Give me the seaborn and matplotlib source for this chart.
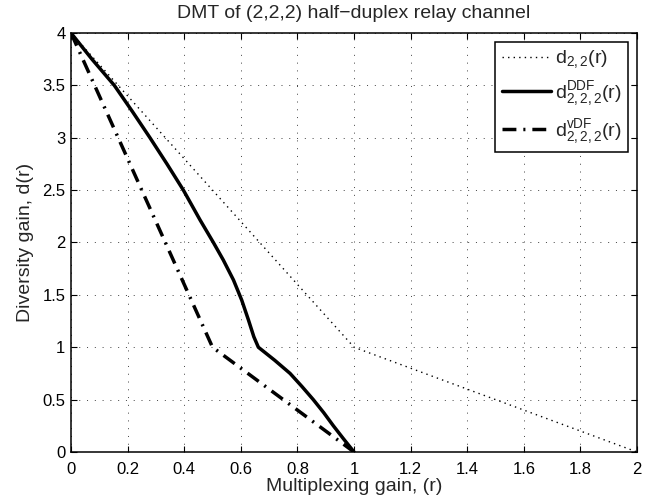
import numpy as np
import pandas as pd
import matplotlib
matplotlib.use('Agg')
import matplotlib.pyplot as plt
import seaborn as sns

# Valores
r_mimo = [0, 1, 2]
d_mimo = [4, 1, 0]

r_ddf = [0, 0.074, 0.153, 0.217, 0.279, 0.339, 0.397, 0.456, 0.503,
         0.538, 0.574, 0.603, 0.627, 0.646, 0.662,
         0.72, 0.774, 0.816, 0.856, 0.893, 0.927, 0.963, 1.0]
d_ddf = [4, 3.75, 3.5, 3.25, 3.0, 2.75, 2.5, 2.215, 2.0,
         1.833, 1.642, 1.451, 1.26, 1.1, 1.0,
         0.875, 0.75, 0.625, 0.5, 0.375, 0.25, 0.125, 0.0]

r_vdf = [0, 0.5, 1.0]
d_vdf = [4, 1.0, 0.0]

x_ticks = [0, 0.2, 0.4, 0.6, 0.8, 1, 1.2, 1.4, 1.6, 1.8, 2]
y_ticks = [0, 0.5, 1, 1.5, 2, 2.5, 3, 3.5, 4]

sns.set_style('ticks')
plt.rcParams['font.family'] = ['Liberation Sans', 'DejaVu Sans']
plt.rcParams['mathtext.fontset'] = 'custom'
plt.rcParams['mathtext.rm'] = 'Liberation Sans'
plt.rcParams['mathtext.it'] = 'Liberation Sans'
plt.rcParams['mathtext.bf'] = 'Liberation Sans'

fig = plt.figure(figsize=(6.6, 5.04), dpi=100)
ax = fig.add_axes([0.1076, 0.1032, 0.8576, 0.8313])

sns.lineplot(x=r_mimo, y=d_mimo, ax=ax, color='k', linestyle=(0, (1, 3)), linewidth=1.0,
             sort=False, estimator=None, label=r'$\mathregular{d_{2,2}(r)}$')
sns.lineplot(x=r_ddf, y=d_ddf, ax=ax, color='k', linestyle='-', linewidth=2.5,
             sort=False, estimator=None, label=r'$\mathregular{d^{DDF}_{2,2,2}(r)}$')
sns.lineplot(x=r_vdf, y=d_vdf, ax=ax, color='k', linestyle=(0, (4, 2, 0.6, 2)), linewidth=2.5,
             sort=False, estimator=None, label=r'$\mathregular{d^{vDF}_{2,2,2}(r)}$')

ax.set_xlim(0, 2)
ax.set_ylim(0, 4)
ax.set_xticks(x_ticks)
ax.set_yticks(y_ticks)
ax.set_xticklabels([f'{v:g}' for v in x_ticks])
ax.set_yticklabels([f'{v:g}' for v in y_ticks])
ax.tick_params(direction='in', top=True, right=True, length=4, width=0.8, labelsize=12, colors='k')
ax.tick_params(axis='x', pad=7)
ax.tick_params(axis='y', pad=4)
ax.grid(True, linestyle=(0, (1, 7)), color='0.25', linewidth=0.7)
for s in ax.spines.values():
    s.set_linewidth(1.1)
    s.set_color('k')

ax.set_xlabel('Multiplexing gain, (r)', fontsize=14, labelpad=1)
ax.set_ylabel('Diversity gain, d(r)', fontsize=14, labelpad=6)
ax.set_title('DMT of (2,2,2) half\u2212duplex relay channel', fontsize=14, pad=11)

leg = ax.legend(loc='upper right', fontsize=14, frameon=True, fancybox=False,
                edgecolor='k', framealpha=1, handlelength=2.5, borderaxespad=0.45,
                borderpad=0.35, labelspacing=0.45, handletextpad=0.2)
leg.get_frame().set_linewidth(1.1)

fig.savefig('out.png', dpi=100)
